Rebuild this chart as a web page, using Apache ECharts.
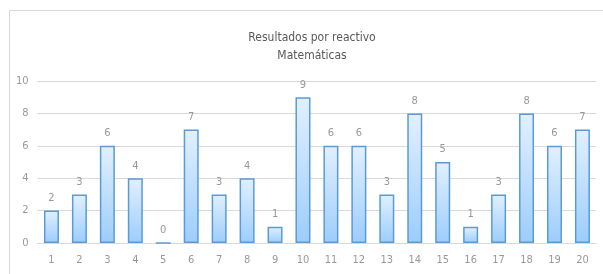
<!DOCTYPE html>
<html>
<head>
<meta charset="utf-8">
<script src="https://cdn.jsdelivr.net/npm/echarts@6/dist/echarts.min.js"></script>
<style>html,body{margin:0;padding:0;background:#fff;}#c{width:603px;height:274px;}</style>
</head>
<body>
<div id="c"></div>
<script>
var categories = ['1','2','3','4','5','6','7','8','9','10','11','12','13','14','15','16','17','18','19','20'];
var values = [2,3,6,4,0,7,3,4,1,9,6,6,3,8,5,1,3,8,6,7];
var yTicks = [0,2,4,6,8,10];
var titleText = 'Resultados por reactivo';
var subtitleText = 'Matemáticas';

var FONT = '"Liberation Sans Narrow","DejaVu Sans Condensed","Liberation Sans",sans-serif';
var chart = echarts.init(document.getElementById('c'), null, {renderer:'canvas'});
chart.setOption({
  animation: false,
  backgroundColor: '#fff',
  graphic: [{
    type: 'rect', silent: true, z: -1,
    shape: {x: 9.5, y: 10.5, width: 620, height: 300},
    style: {fill: 'none', stroke: '#d9d9d9', lineWidth: 1}
  }],
  title: {
    text: titleText,
    subtext: subtitleText,
    left: 307, top: 27, textAlign: 'center',
    itemGap: 6,
    textStyle: {fontFamily: FONT, fontSize: 12, fontWeight: 'normal', color: '#595959'},
    subtextStyle: {fontFamily: FONT, fontSize: 12, color: '#595959'}
  },
  grid: {left: 37.5, right: 6.6, top: 81, bottom: 31, containLabel: false},
  xAxis: {
    type: 'category', data: categories,
    axisLine: {show: true, lineStyle: {color: '#d9d9d9'}},
    axisTick: {show: false},
    axisLabel: {color: '#999999', fontFamily: FONT, fontSize: 11, margin: 12}
  },
  yAxis: {
    type: 'value', min: 0, max: 10, interval: 2,
    axisLine: {show: false}, axisTick: {show: false},
    splitLine: {lineStyle: {color: '#d9d9d9'}},
    axisLabel: {color: '#999999', fontFamily: FONT, fontSize: 11, margin: 9,
      formatter: function(v){ return yTicks.indexOf(v) >= 0 ? String(v) : ''; }}
  },
  series: [{
    type: 'bar', data: values,
    barWidth: 15,
    itemStyle: {
      color: new echarts.graphic.LinearGradient(0,0,0,1,[{offset:0,color:'#e2f0ff'},{offset:1,color:'#9ccdfc'}]),
      borderColor: '#5b9bd5', borderWidth: 1.5
    },
    label: {show: true, position: 'top', distance: 7, color: '#999999', fontFamily: FONT, fontSize: 11}
  }]
});
</script>
</body>
</html>
